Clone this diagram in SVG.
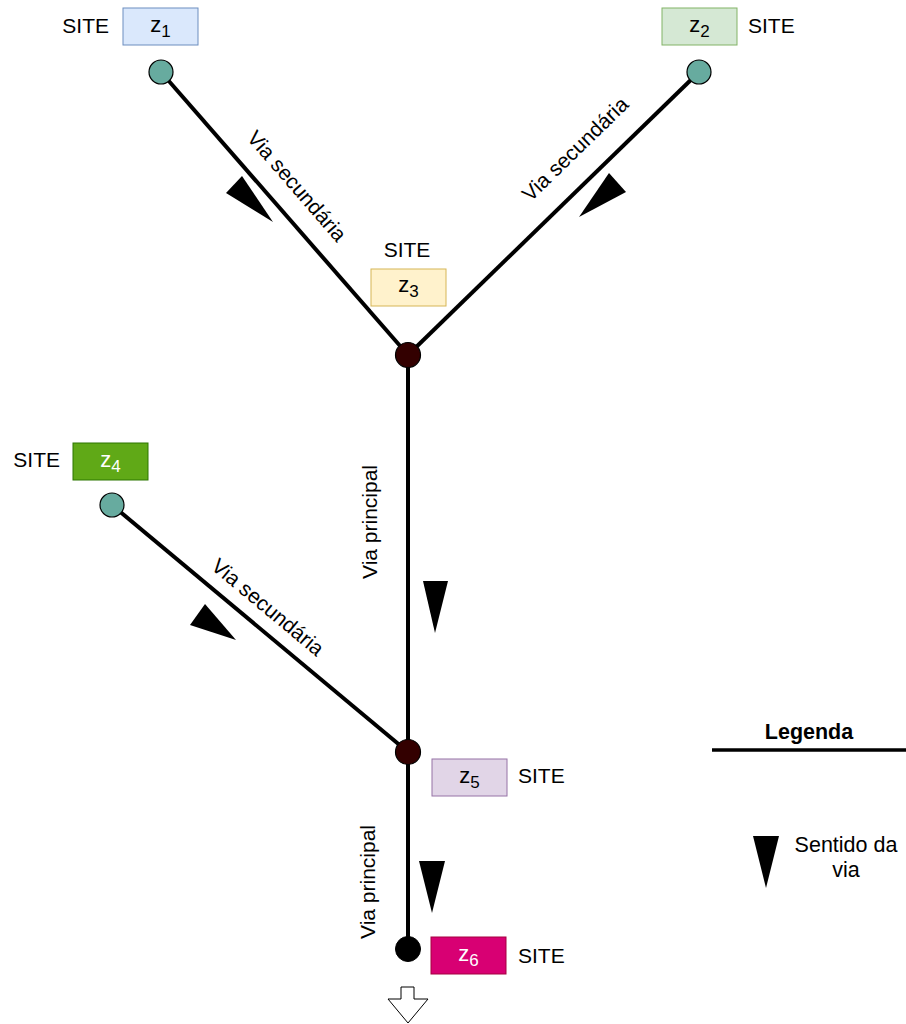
<svg xmlns="http://www.w3.org/2000/svg" width="906" height="1024" viewBox="0 0 906 1024">
  <style>
    text { font-family: "Liberation Sans", Arial, sans-serif; fill: #000; }
    .lbl { font-size: 21px; }
    .zt { font-size: 22px; text-anchor: middle; }
    .zt tspan.s { font-size: 17px; }
    .road { stroke: #000; stroke-width: 4; fill: none; }
    .dir { fill: #000; stroke: none; }
    .end { fill: #67AB9F; stroke: #000; stroke-width: 1.2; }
    .junc { fill: #330000; stroke: #000; stroke-width: 1.2; }
  </style>

  <!-- roads -->
  <g id="connectors">
    <line class="road" x1="161" y1="72" x2="408" y2="355"/>
    <line class="road" x1="699" y1="72" x2="408" y2="355"/>
    <line class="road" x1="408" y1="355" x2="408" y2="949"/>
    <line class="road" x1="112" y1="505" x2="408" y2="752"/>

    <!-- direction markers -->
    <polygon class="dir" points="226,193 242,176 273,222"/>
    <polygon class="dir" points="579,217 609,173 626,192"/>
    <polygon class="dir" points="423,581 448,581 435,633"/>
    <polygon class="dir" points="419,861 445,861 432,913"/>
    <polygon class="dir" points="190,625 205,604 236,640"/>

    <!-- road labels -->
    <text class="lbl" text-anchor="middle" dy="0.35em" transform="translate(297,186) rotate(49)">Via secundária</text>
    <text class="lbl" text-anchor="middle" dy="0.35em" transform="translate(575,149) rotate(-44.2)">Via secundária</text>
    <text class="lbl" text-anchor="middle" dy="0.35em" transform="translate(268,607) rotate(39.8)">Via secundária</text>
    <text class="lbl" text-anchor="middle" dy="0.35em" transform="translate(370,522) rotate(-90)">Via principal</text>
    <text class="lbl" text-anchor="middle" dy="0.35em" transform="translate(368,882) rotate(-90)">Via principal</text>

    <!-- outflow -->
    <polygon points="401,987 414,987 414,999 428,999 408,1023 388,999 401,999" fill="#fff" stroke="#000" stroke-width="1"/>
  </g>

  <g id="node1">
    <circle class="end" cx="161" cy="72" r="12"/>
    <rect x="123" y="8" width="75" height="37" fill="#dae8fc" stroke="#6c8ebf" stroke-width="1"/>
    <text class="zt" x="160.5" y="32">z<tspan class="s" dy="5">1</tspan></text>
    <text class="lbl" x="109" y="33" text-anchor="end">SITE</text>
  </g>

  <g id="node2">
    <circle class="end" cx="699" cy="72" r="12"/>
    <rect x="662" y="8" width="75" height="37" fill="#d5e8d4" stroke="#82b366" stroke-width="1"/>
    <text class="zt" x="699.5" y="32">z<tspan class="s" dy="5">2</tspan></text>
    <text class="lbl" x="748" y="33">SITE</text>
  </g>

  <g id="node3">
    <circle class="junc" cx="408" cy="355" r="12.5"/>
    <rect x="371" y="269" width="75" height="37" fill="#fff2cc" stroke="#d6b656" stroke-width="1"/>
    <text class="zt" x="408.5" y="292">z<tspan class="s" dy="5">3</tspan></text>
    <text class="lbl" x="407" y="257" text-anchor="middle">SITE</text>
  </g>

  <g id="node4">
    <circle class="end" cx="112" cy="505" r="12"/>
    <rect x="73" y="443" width="75" height="37" fill="#60a917" stroke="#2d7600" stroke-width="1"/>
    <text class="zt" x="110.5" y="467" style="fill:#fff">z<tspan class="s" dy="5" style="fill:#fff">4</tspan></text>
    <text class="lbl" x="60" y="467" text-anchor="end">SITE</text>
  </g>

  <g id="node5">
    <circle class="junc" cx="408" cy="752" r="12.5"/>
    <rect x="432" y="759" width="75" height="37" fill="#e1d5e7" stroke="#9673a6" stroke-width="1"/>
    <text class="zt" x="469.5" y="783">z<tspan class="s" dy="5">5</tspan></text>
    <text class="lbl" x="518" y="783">SITE</text>
  </g>

  <g id="node6">
    <circle cx="408" cy="949" r="12.5" fill="#000" stroke="#000" stroke-width="1"/>
    <rect x="431" y="937" width="75" height="37" fill="#d80073" stroke="#a50040" stroke-width="1"/>
    <text class="zt" x="468.5" y="961" style="fill:#fff">z<tspan class="s" dy="5" style="fill:#fff">6</tspan></text>
    <text class="lbl" x="518" y="963">SITE</text>
  </g>

  <g id="legend">
    <text x="809" y="739" text-anchor="middle" style="font-size:21.5px;font-weight:bold">Legenda</text>
    <line x1="712" y1="750" x2="906" y2="750" stroke="#000" stroke-width="3.5"/>
    <polygon class="dir" points="753,836 779,836 766,888"/>
    <text x="846" y="852" text-anchor="middle" style="font-size:21.5px">Sentido da</text>
    <text x="846" y="877" text-anchor="middle" style="font-size:21.5px">via</text>
  </g>
</svg>
